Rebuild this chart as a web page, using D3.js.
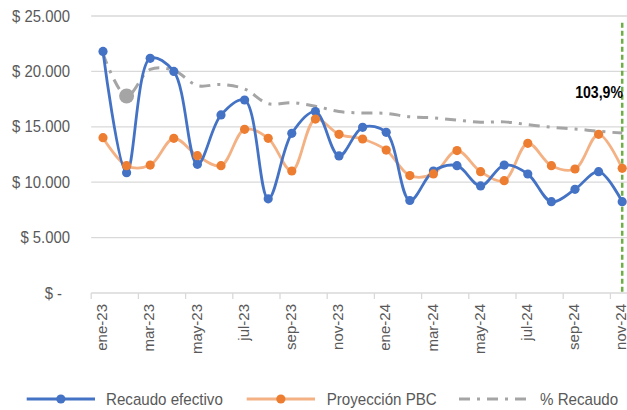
<!DOCTYPE html>
<html>
<head>
<meta charset="utf-8">
<script src="https://cdn.jsdelivr.net/npm/d3@7"></script>
<style>
  body { margin: 0; background: #fff; }
  text { font-family: "Liberation Sans", Arial, sans-serif; }
</style>
</head>
<body>
<div id="chart"></div>
<script>
// Months on the category axis
var months = ["ene-23", "feb-23", "mar-23", "abr-23", "may-23", "jun-23", "jul-23", "ago-23",
              "sep-23", "oct-23", "nov-23", "dic-23", "ene-24", "feb-24", "mar-24", "abr-24",
              "may-24", "jun-24", "jul-24", "ago-24", "sep-24", "oct-24", "nov-24"];

// Recaudo efectivo (blue)
var recaudo = [21800, 10860, 21180, 20000, 11610, 16070, 17420, 8500, 14410, 16370, 12370, 14950,
               14500, 8350, 11010, 11490, 9660, 11550, 10740, 8240, 9360, 10950, 8240];

// Proyección PBC (orange)
var proyeccion = [14020, 11490, 11550, 13960, 12390, 11490, 14770, 13960, 11010, 15700, 14320, 13900,
                  12900, 10600, 10750, 12850, 10950, 10140, 13510, 11490, 11190, 14320, 11250];

// % Recaudo (grey, secondary axis)
var pctRecaudo = [1.555, 1.280, 1.453, 1.447, 1.348, 1.355, 1.326, 1.230, 1.237, 1.214, 1.179, 1.170,
                  1.167, 1.145, 1.138, 1.123, 1.110, 1.112, 1.094, 1.077, 1.066, 1.051, 1.039];

var yTicks = [0, 5000, 10000, 15000, 20000, 25000];
var pctLabel = "103,9%";

var width = 627, height = 410;
var svg = d3.select("#chart").append("svg")
    .attr("width", width)
    .attr("height", height)
    .style("display", "block");

svg.append("rect").attr("width", width).attr("height", height).attr("fill", "#fff");

var x = d3.scaleBand().domain(months).range([91.2, 91.2 + 23 * 23.6]);
var y = d3.scaleLinear().domain([0, 25000]).range([293, 16]);
var yPct = d3.scaleLinear().domain([0, 1.8]).range([293, 16]);
var cx = function(d, i) { return x(months[i]) + x.bandwidth() / 2; };

// gridlines
svg.append("g").selectAll("line")
    .data(yTicks.filter(function(v) { return v > 0; }))
    .enter().append("line")
        .attr("x1", 91.2).attr("x2", width)
        .attr("y1", function(d) { return y(d); })
        .attr("y2", function(d) { return y(d); })
        .attr("stroke", "#d9d9d9").attr("stroke-width", 1.3);

// y labels
var fmt = function(v) {
    if (v === 0) return "$ -";
    return "$ " + d3.format(",")(v).replace(/,/g, ".");
};
svg.append("g").selectAll("g")
    .data(yTicks)
    .enter().append("g")
        .attr("transform", function(d) {
            return "translate(" + (d === 0 ? 62 : 70) + "," + y(d) + ") scale(0.93,1)";
        })
    .append("text")
        .attr("text-anchor", "end")
        .attr("dy", "0.35em")
        .attr("font-size", 16)
        .attr("fill", "#595959")
        .text(fmt);

// x axis line and ticks every two months
svg.append("line")
    .attr("x1", 91.2).attr("x2", width)
    .attr("y1", y(0)).attr("y2", y(0))
    .attr("stroke", "#d9d9d9").attr("stroke-width", 1.3);

var labelled = months.filter(function(m, i) { return i % 2 === 0; });
svg.append("g").selectAll("line")
    .data(labelled)
    .enter().append("line")
        .attr("x1", function(d) { return x(d); })
        .attr("x2", function(d) { return x(d); })
        .attr("y1", y(0)).attr("y2", y(0) + 6)
        .attr("stroke", "#d9d9d9").attr("stroke-width", 1.3);

svg.append("g").selectAll("text")
    .data(labelled)
    .enter().append("text")
        .attr("transform", function(d) {
            return "translate(" + (x(d) + x.bandwidth() / 2 - 1) + "," + (y(0) + 11) + ") rotate(-90)";
        })
        .attr("text-anchor", "end")
        .attr("dy", "0.35em")
        .attr("font-size", 15)
        .attr("fill", "#595959")
        .text(function(d) { return d; });

// green dashed marker at last month
var lastX = cx(null, months.length - 1);
svg.append("line")
    .attr("x1", lastX).attr("x2", lastX)
    .attr("y1", y(24400)).attr("y2", y(0))
    .attr("stroke", "#70ad47").attr("stroke-width", 2.5)
    .attr("stroke-dasharray", "5,3");

// % Recaudo line
var pctLine = d3.line()
    .x(cx)
    .y(function(d) { return yPct(d); })
    .curve(d3.curveCatmullRom);
svg.append("path")
    .datum(pctRecaudo)
    .attr("d", pctLine)
    .attr("fill", "none")
    .attr("stroke", "#a5a5a5").attr("stroke-width", 3)
    .attr("stroke-dasharray", "11,7,3,7");
svg.append("circle")
    .attr("cx", cx(null, 1)).attr("cy", yPct(pctRecaudo[1]))
    .attr("r", 7.5).attr("fill", "#a5a5a5");

// Proyección PBC
var lineGen = function(scale) {
    return d3.line().x(cx).y(function(d) { return scale(d); }).curve(d3.curveCatmullRom);
};
svg.append("path")
    .datum(proyeccion)
    .attr("d", lineGen(y))
    .attr("fill", "none")
    .attr("stroke", "#f4b183").attr("stroke-width", 2.8);

// Recaudo efectivo
svg.append("path")
    .datum(recaudo)
    .attr("d", lineGen(y))
    .attr("fill", "none")
    .attr("stroke", "#4472c4").attr("stroke-width", 2.8);

svg.append("g").selectAll("circle")
    .data(recaudo)
    .enter().append("circle")
        .attr("cx", cx).attr("cy", function(d) { return y(d); })
        .attr("r", 4.6).attr("fill", "#4472c4");

svg.append("g").selectAll("circle")
    .data(proyeccion)
    .enter().append("circle")
        .attr("cx", cx).attr("cy", function(d) { return y(d); })
        .attr("r", 4.6).attr("fill", "#ed7d31");

// label on the last % value
svg.append("g")
    .attr("transform", "translate(623," + (yPct(pctRecaudo[pctRecaudo.length - 1]) - 35) + ") scale(0.83,1)")
  .append("text")
    .attr("text-anchor", "end")
    .attr("font-size", 17)
    .attr("font-weight", "bold")
    .attr("fill", "#000")
    .text(pctLabel);

// legend
var legend = [
    { name: "Recaudo efectivo", x1: 26.7, x2: 95,  tx: 106,   line: "#4472c4", dot: "#4472c4", dash: null },
    { name: "Proyección PBC",   x1: 246.7, x2: 315, tx: 326.7, line: "#f4b183", dot: "#ed7d31", dash: null },
    { name: "% Recaudo",        x1: 459,  x2: 528, tx: 540,   line: "#a5a5a5", dot: null,      dash: "11,7,3,7" }
];
var ly = 399;
var lg = svg.append("g").selectAll("g").data(legend).enter().append("g");
lg.append("line")
    .attr("x1", function(d) { return d.x1; })
    .attr("x2", function(d) { return d.x2; })
    .attr("y1", ly).attr("y2", ly)
    .attr("stroke", function(d) { return d.line; })
    .attr("stroke-width", function(d) { return d.dash ? 3 : 2.8; })
    .attr("stroke-dasharray", function(d) { return d.dash; });
lg.filter(function(d) { return d.dot; }).append("circle")
    .attr("cx", function(d) { return (d.x1 + d.x2) / 2; })
    .attr("cy", ly).attr("r", 4.6)
    .attr("fill", function(d) { return d.dot; });
lg.append("g")
    .attr("transform", function(d) { return "translate(" + d.tx + "," + (ly + 6) + ") scale(0.89,1)"; })
  .append("text")
    .attr("font-size", 17)
    .attr("fill", "#595959")
    .text(function(d) { return d.name; });
</script>
</body>
</html>
